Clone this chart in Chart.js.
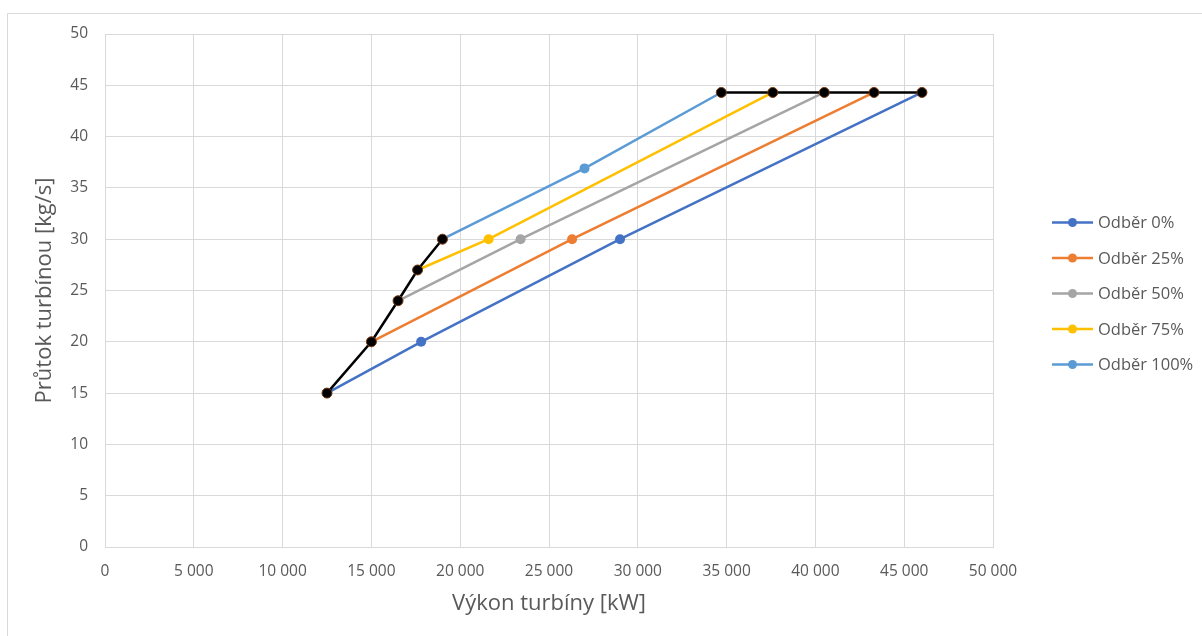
<!DOCTYPE html>
<html>
<head>
<meta charset="utf-8">
<script src="https://cdn.jsdelivr.net/npm/chart.js@4.4.0/dist/chart.umd.min.js"></script>
<style>
  html, body { margin: 0; padding: 0; background: #fff; }
  #wrap { position: absolute; left: 0; top: 0; width: 1202px; height: 636px; }
</style>
</head>
<body>
<div id="wrap"><canvas id="graf"></canvas></div>
<script>
// hodnoty
const nazvy = ['Odběr 0%', 'Odběr 25%', 'Odběr 50%', 'Odběr 75%', 'Odběr 100%'];
const barvy = ['#4472C4', '#ED7D31', '#A5A5A5', '#FFC000', '#5B9BD5'];

const vykon0 = [12500, 17800, 29000, 46000];
const prutok0 = [15, 20, 30, 44.3];
const vykon25 = [15000, 26300, 43300];
const prutok25 = [20, 30, 44.3];
const vykon50 = [16500, 23400, 40500];
const prutok50 = [24, 30, 44.3];
const vykon75 = [17600, 21600, 37600];
const prutok75 = [27, 30, 44.3];
const vykon100 = [19000, 27000, 34700];
const prutok100 = [30, 36.9, 44.3];

// obalka (cerne)
const obalkaDolVykon = [12500, 15000, 16500, 17600, 19000];
const obalkaDolPrutok = [15, 20, 24, 27, 30];
const obalkaHorVykon = [34700, 37600, 40500, 43300, 46000];
const obalkaHorPrutok = [44.3, 44.3, 44.3, 44.3, 44.3];

const xTicks = [0, 5000, 10000, 15000, 20000, 25000, 30000, 35000, 40000, 45000, 50000];
const yTicks = [0, 5, 10, 15, 20, 25, 30, 35, 40, 45, 50];

function body(xs, ys) {
  return xs.map(function(x, i) { return {x: x, y: ys[i]}; });
}

const vykony = [vykon0, vykon25, vykon50, vykon75, vykon100];
const prutoky = [prutok0, prutok25, prutok50, prutok75, prutok100];

const datasets = [];
for (let i = 0; i < nazvy.length; i++) {
  datasets.push({
    label: nazvy[i],
    data: body(vykony[i], prutoky[i]),
    showLine: true,
    borderColor: barvy[i],
    backgroundColor: barvy[i],
    borderWidth: 2.5,
    pointRadius: 5,
    pointBorderWidth: 0,
    order: 1
  });
}
[[obalkaDolVykon, obalkaDolPrutok], [obalkaHorVykon, obalkaHorPrutok]].forEach(function(o) {
  datasets.push({
    label: '',
    data: body(o[0], o[1]),
    showLine: true,
    borderColor: '#000',
    backgroundColor: '#000',
    borderWidth: 2.5,
    pointRadius: 5,
    pointBorderWidth: 1,
    pointBorderColor: '#7a3e14',
    order: 0
  });
});

const ramecek = {
  id: 'ramecek',
  beforeDraw(chart) {
    const ctx = chart.ctx;
    ctx.save();
    ctx.strokeStyle = '#d9d9d9';
    ctx.lineWidth = 1;
    ctx.beginPath();
    ctx.moveTo(7.5, 640);
    ctx.lineTo(7.5, 13.5);
    ctx.lineTo(1210, 13.5);
    ctx.stroke();
    ctx.restore();
  }
};

const legenda = {
  id: 'legenda',
  afterDraw(chart) {
    const ctx = chart.ctx;
    ctx.save();
    ctx.font = '16.5px "Open Sans"';
    ctx.textBaseline = 'middle';
    for (let i = 0; i < nazvy.length; i++) {
      const y = 222.5 + i * 35.5;
      ctx.strokeStyle = barvy[i];
      ctx.lineWidth = 2.5;
      ctx.beginPath();
      ctx.moveTo(1052, y);
      ctx.lineTo(1093, y);
      ctx.stroke();
      ctx.fillStyle = barvy[i];
      ctx.beginPath();
      ctx.arc(1072.5, y, 4.5, 0, Math.PI * 2);
      ctx.fill();
      ctx.fillStyle = '#595959';
      ctx.fillText(nazvy[i], 1098, y + 1);
    }
    ctx.restore();
  }
};

const fmt = function(v) { return String(v).replace(/\B(?=(\d{3})+(?!\d))/g, ' '); };

new Chart(document.getElementById('graf'), {
  type: 'scatter',
  data: { datasets: datasets },
  plugins: [ramecek, legenda],
  options: {
    responsive: true,
    maintainAspectRatio: false,
    animation: false,
    layout: { padding: { left: 0, top: 34, right: 209, bottom: 0 } },
    plugins: { legend: { display: false }, tooltip: { enabled: false } },
    scales: {
      x: {
        type: 'linear',
        min: 0, max: 50000,
        afterBuildTicks(s) { s.ticks = xTicks.map(function(v) { return {value: v}; }); },
        afterFit(s) { s.height = 89; },
        grid: { color: '#d9d9d9', drawTicks: false },
        border: { color: '#d9d9d9' },
        ticks: { padding: 15, color: '#595959', font: { family: 'Open Sans', size: 15.5 }, maxRotation: 0, callback: function(v) { return fmt(v); } },
        title: { display: true, text: 'Výkon turbíny [kW]', color: '#595959', font: { family: 'Open Sans', size: 22 }, padding: { top: 0, bottom: 19 } }
      },
      y: {
        type: 'linear',
        min: 0, max: 50,
        afterBuildTicks(s) { s.ticks = yTicks.map(function(v) { return {value: v}; }); },
        afterFit(s) { s.width = 105; },
        grid: { color: '#d9d9d9', drawTicks: false },
        border: { color: '#d9d9d9' },
        ticks: { padding: 17, color: '#595959', font: { family: 'Open Sans', size: 15.5 } },
        title: { display: true, text: 'Průtok turbínou [kg/s]', color: '#595959', font: { family: 'Open Sans', size: 22 }, padding: { top: 32, bottom: 0 } }
      }
    }
  }
});
</script>
</body>
</html>
